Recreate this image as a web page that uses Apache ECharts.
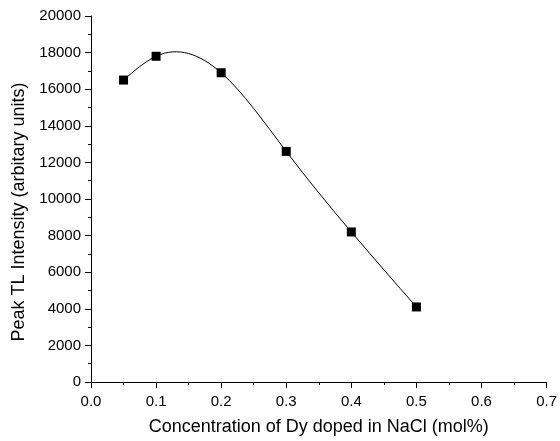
<!DOCTYPE html>
<html><head><meta charset="utf-8">
<script src="https://cdn.jsdelivr.net/npm/echarts@6/dist/echarts.min.js"></script>
<style>html,body{margin:0;padding:0;background:#fff}#c{width:560px;height:441px}</style>
</head><body><div id="c"></div>
<script>
const concentration = [0.05, 0.1, 0.2, 0.3, 0.4, 0.5];
const intensity = [16500, 17800, 16900, 12600, 8200, 4100];
const xTitle = 'Concentration of Dy doped in NaCl (mol%)';
const yTitle = 'Peak TL Intensity (arbitary units)';

// natural cubic spline slopes at each knot (used only to shape the connecting curve)
function splineSlopes(xs, ys) {
  const n = xs.length, h = [], s = [];
  for (let i = 0; i < n - 1; i++) { h.push(xs[i+1]-xs[i]); s.push((ys[i+1]-ys[i])/h[i]); }
  const M = new Array(n).fill(0);
  const a = [], b = [], c = [], d = [];
  for (let i = 1; i < n - 1; i++) {
    a.push(h[i-1]); b.push(2*(h[i-1]+h[i])); c.push(h[i]); d.push(6*(s[i]-s[i-1]));
  }
  const m = a.length;
  for (let i = 1; i < m; i++) { const w = a[i]/b[i-1]; b[i] -= w*c[i-1]; d[i] -= w*d[i-1]; }
  const sol = new Array(m);
  sol[m-1] = d[m-1]/b[m-1];
  for (let i = m-2; i >= 0; i--) sol[i] = (d[i]-c[i]*sol[i+1])/b[i];
  for (let i = 0; i < m; i++) M[i+1] = sol[i];
  const segs = [];
  for (let i = 0; i < n - 1; i++) {
    segs.push({
      d0: s[i] - h[i]*(2*M[i]+M[i+1])/6,
      d1: s[i] + h[i]*(M[i]+2*M[i+1])/6
    });
  }
  return segs;
}
const segs = splineSlopes(concentration, intensity);

const chart = echarts.init(document.getElementById('c'), null, {renderer: 'canvas'});
const font = 'Liberation Sans, Arial, sans-serif';
const axisCommon = {
  axisLine: {show: true, onZero: false, lineStyle: {color: '#000', width: 1}},
  axisTick: {show: true, inside: false, length: 6, lineStyle: {color: '#000'}},
  minorTick: {show: true, splitNumber: 2, length: 3, lineStyle: {color: '#000'}},
  splitLine: {show: false},
  minorSplitLine: {show: false}
};
chart.setOption({
  animation: false,
  grid: {left: 91, right: 8, top: 16, bottom: 59},
  xAxis: Object.assign({}, axisCommon, {
    type: 'value', min: 0, max: 0.7, interval: 0.1,
    name: xTitle, nameLocation: 'middle', nameGap: 36,
    nameTextStyle: {color: '#000', fontFamily: font, fontSize: 18},
    axisLabel: {color: '#000', fontFamily: font, fontSize: 15, margin: 12, formatter: v => v.toFixed(1)}
  }),
  yAxis: Object.assign({}, axisCommon, {
    type: 'value', min: 0, max: 20000, interval: 2000,
    axisLabel: {color: '#000', fontFamily: font, fontSize: 15, margin: 10, formatter: v => String(v)}
  }),
  graphic: [{
    type: 'text', x: 19.5, y: 212, rotation: Math.PI/2,
    style: {text: yTitle, fill: '#000', font: '18px ' + font, align: 'center', verticalAlign: 'middle'}
  }],
  series: [{
    type: 'custom',
    data: concentration.slice(0, -1).map((x, i) => [x, intensity[i], concentration[i+1], intensity[i+1]]),
    renderItem: function (params, api) {
      const i = params.dataIndex;
      const x0 = api.value(0), y0 = api.value(1), x1 = api.value(2), y1 = api.value(3);
      const hh = (x1 - x0) / 3;
      const p0 = api.coord([x0, y0]);
      const c1 = api.coord([x0 + hh, y0 + hh * segs[i].d0]);
      const c2 = api.coord([x1 - hh, y1 - hh * segs[i].d1]);
      const p1 = api.coord([x1, y1]);
      return {
        type: 'bezierCurve',
        shape: {x1: p0[0], y1: p0[1], cpx1: c1[0], cpy1: c1[1], cpx2: c2[0], cpy2: c2[1], x2: p1[0], y2: p1[1]},
        style: {stroke: '#000', lineWidth: 1, fill: null}
      };
    },
    z: 2
  }, {
    type: 'scatter',
    data: concentration.map((x, i) => [x, intensity[i]]),
    symbol: 'rect', symbolSize: 9,
    itemStyle: {color: '#000', opacity: 1},
    z: 3
  }]
});
</script></body></html>
